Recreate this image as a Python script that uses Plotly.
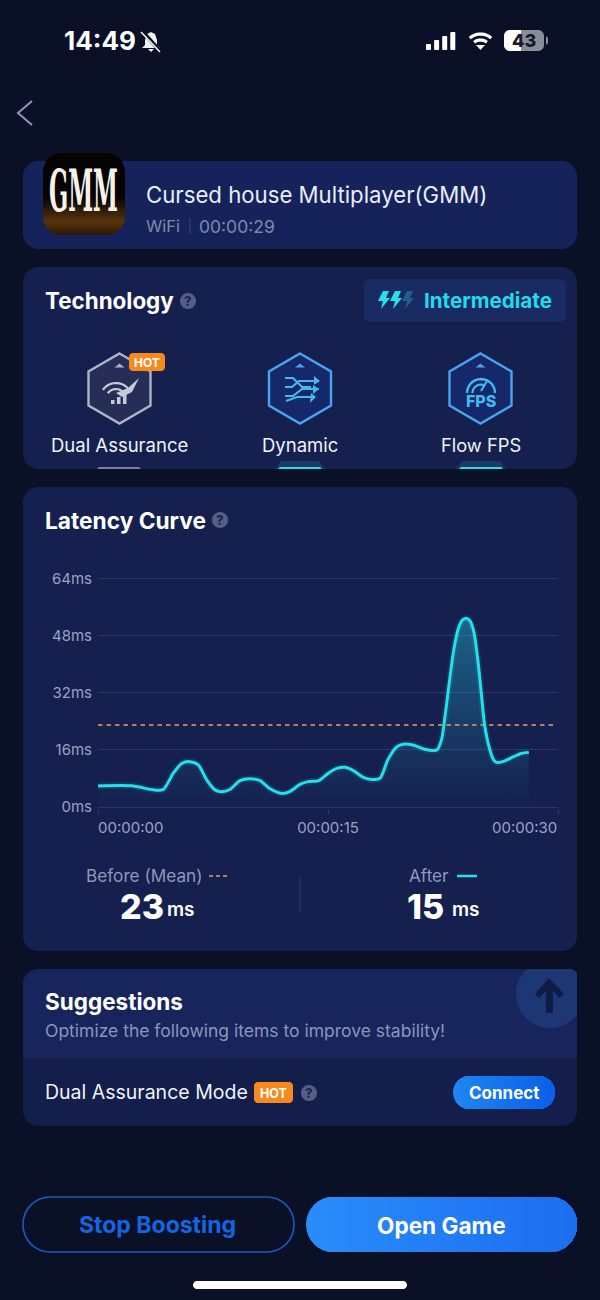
import math
import plotly.graph_objects as go

# ---------- chart data ----------
TIME_S = [0, 2.3, 3.6, 4.26, 4.9, 5.46, 6.0, 6.54, 7.09, 7.63, 8.07, 8.6, 9.26, 9.9, 10.57, 11.2, 12.0,
          12.5, 13.2, 13.7, 14.4, 15.0, 15.57, 16.1, 16.65, 17.3, 17.85, 18.4, 18.9, 19.5, 19.9, 20.6,
          21.3, 22.1, 22.4, 22.6, 22.9, 23.2, 23.5, 23.75, 24.0, 24.25, 24.5, 24.75, 25.0, 25.2, 25.5, 25.8, 26.0,
          26.4, 27.1, 27.6, 28.1]
LATENCY_MS = [5.9, 5.9, 4.8, 4.9, 9.4, 12.2, 12.7, 11.8, 7.6, 4.8, 4.3, 4.9, 7.4, 7.9, 7.4, 5.2, 3.8,
              4.3, 6.4, 7.1, 7.4, 9.4, 10.8, 11.1, 10.2, 8.3, 7.7, 8.1, 13.2, 16.9, 17.6, 17.3,
              16.2, 16.0, 18.8, 24.3, 34.6, 44.0, 50.0, 52.3, 52.9, 52.2, 49.3, 42.0, 31.8, 23.4, 16.9, 13.2, 12.5,
              12.7, 14.1, 15.0, 15.3]
MEAN_X = [0, 29.8]
MEAN_Y = [23, 23]
Y_TICKS = [0, 16, 32, 48, 64]
Y_LABELS = ["0ms", "16ms", "32ms", "48ms", "64ms"]
X_TICKS = [0, 15, 30]
X_LABELS = ["00:00:00", "00:00:15", "00:00:30"]

# ---------- palette / helpers ----------
W, H = 600, 1300
FONT = "Inter, Roboto, sans-serif"
BG = "#0a1126"
CARD = "#15204e"
CYAN = "#27dfea"
GRID = "#2b3768"
shapes, notes = [], []


def X(p): return p / W
def Y(p): return 1 - p / H


def poly_path(pts, close=True):
    s = "M" + " L".join(f"{X(a):.5f} {Y(b):.5f}" for a, b in pts)
    return s + (" Z" if close else "")


def poly(pts, fill=None, line=None, lw=1, close=True, layer="below", opacity=1):
    shapes.append(dict(type="path", xref="paper", yref="paper", path=poly_path(pts, close),
                       fillcolor=fill if fill else "rgba(0,0,0,0)",
                       line=dict(color=line if line else "rgba(0,0,0,0)", width=lw if line else 0),
                       layer=layer, opacity=opacity))


def rr_pts(x0, y0, x1, y1, r):
    pts = []
    for cx, cy, a0 in ((x1 - r, y0 + r, -90), (x1 - r, y1 - r, 0), (x0 + r, y1 - r, 90), (x0 + r, y0 + r, 180)):
        for i in range(9):
            a = math.radians(a0 + i * 90 / 8)
            pts.append((cx + r * math.cos(a), cy + r * math.sin(a)))
    return pts


def rrect(x0, y0, x1, y1, r, fill=None, line=None, lw=1):
    poly(rr_pts(x0, y0, x1, y1, r), fill, line, lw)


def hmix(c0, c1, t):
    a = [int(c0[i:i + 2], 16) for i in (1, 3, 5)]
    b = [int(c1[i:i + 2], 16) for i in (1, 3, 5)]
    return "#" + "".join(f"{round(p + (q - p) * t):02x}" for p, q in zip(a, b))


def grad_rrect(x0, y0, x1, y1, r, c0, c1, n=40):
    base = rr_pts(x0, y0, x1, y1, r)
    for i in range(n):
        xs = x0 + (x1 - x0) * i / n
        poly([(max(a, xs), b) for a, b in base], hmix(c0, c1, i / (n - 1)))


def arc(cx, cy, r, a0, a1, n=14):
    return [(cx + r * math.cos(math.radians(a0 + (a1 - a0) * i / n)),
             cy + r * math.sin(math.radians(a0 + (a1 - a0) * i / n))) for i in range(n + 1)]


def txt(x, y, s, size, color="#ffffff", anchor="left", weight=400, family=FONT):
    if anchor == "left":
        x -= 1
    notes.append(dict(x=X(x), y=Y(y), xref="paper", yref="paper", text=s, showarrow=False, xanchor=anchor,
                      yanchor="middle", borderpad=0, font=dict(size=size, color=color, family=family, weight=weight)))


def help_icon(cx, cy):
    poly(arc(cx, cy, 8, 0, 360, 28), "#565e86")
    txt(cx, cy, "?", 13, "#1a2450", "center", 800)


def hexagon(cx, cy, stroke, fill):
    w, h, s = 31, 35, 17
    pts = [(cx, cy - h), (cx + w, cy - s), (cx + w, cy + s), (cx, cy + h), (cx - w, cy + s), (cx - w, cy - s)]
    poly(pts, fill, stroke, 2.4)
    poly([(cx, cy - 25), (cx + 5, cy - 21), (cx - 5, cy - 21)], stroke)


def bolt(x, y, c):
    poly([(x + 5, y), (x + 11, y), (x + 8, y + 7), (x + 12, y + 7), (x + 3, y + 18), (x + 5, y + 10), (x, y + 10)], c)


# ---------- status bar ----------
txt(64, 40, "14:49", 26, "#ffffff", weight=700)
poly([(151, 32), (155, 34), (157, 40), (157, 45), (160, 48), (142, 48), (145, 45), (145, 40), (147, 34)], "#f1f2f5")
poly([(148, 49), (154, 49), (151, 52)], "#f1f2f5")
poly([(142, 31), (161, 52)], None, BG, 4, close=False)
poly([(141, 32), (160, 52)], None, "#f1f2f5", 1.6, close=False)
for i, h_ in enumerate((6, 10, 14, 18)):
    rrect(426 + i * 8.1, 50 - h_, 431 + i * 8.1, 50, 1, "#ffffff")
poly([(480.5, 50), (476, 45), (485, 45)], "#ffffff")
poly(arc(480.5, 50, 10, -130, -50), None, "#ffffff", 3.2, close=False)
poly(arc(480.5, 50, 16, -132, -48), None, "#ffffff", 3.2, close=False)
rrect(504, 30, 544, 51, 6, "#8a8d98")
poly([(546, 36), (548, 38), (548, 43), (546, 45)], "#8a8d98")
poly([(a if a < 521 else 521, b) for a, b in rr_pts(504, 30, 544, 51, 6)], "#ffffff")
txt(524, 40.5, "43", 18, "#141a30", "center", 800)
poly([(32, 101), (18, 113), (32, 125)], None, "#8d98b3", 2, close=False)

# ---------- game card ----------
rrect(23, 161, 577, 249, 15, "#16235a")
base = rr_pts(43, 153, 125, 235, 19)
poly(base, "#060403")
for i in range(16):
    y_ = 198 + i * 37 / 16
    t = i / 15
    c = hmix("#0a0705", "#55320c", min(1, t * 1.6)) if t < 0.7 else hmix("#55320c", "#2e1a06", (t - 0.7) / 0.3)
    poly([(a, max(b, y_)) for a, b in base], c)
txt(83.5, 191.5, "GMM", 25, "#f6f2ea", "center", 700, "DejaVu Serif Condensed, DejaVu Serif, serif")
txt(146, 194, "Cursed house Multiplayer(GMM)", 22.2, "#e9edf9")
txt(146, 226, "WiFi", 16.5, "#7f88ad")
poly([(190, 218), (190, 234)], None, "#3a4675", 1, close=False)
txt(199, 226, "00:00:29", 17.5, "#7f88ad")

# ---------- technology card ----------
rrect(23, 267, 577, 469, 15, CARD)
txt(45, 300, "Technology", 22.4, "#ffffff", weight=700)
help_icon(188, 301)
rrect(364, 279, 566, 322, 6, "#1a2a63")
bolt(378, 291, CYAN)
bolt(390, 291, CYAN)
bolt(402, 291, "#1f5f86")
txt(424, 300, "Intermediate", 20.6, "#22dbe8", weight=700)
hexagon(119.5, 388.5, "#aeb3c4", "#262e57")
hexagon(300, 388.5, "#4aa3f0", "#14286a")
hexagon(480.5, 388.5, "#4aa3f0", "#14286a")
# hexagon glyphs
poly(arc(116, 399, 10, -145, -40), None, "#c6c9d6", 2.2, close=False)
poly(arc(116, 399, 16, -145, -40), None, "#c6c9d6", 2.2, close=False)
poly([(116, 393), (128, 388), (139, 378), (132, 392), (122, 397)], "#c6c9d6")
for x_, top in ((111, 400), (117, 397), (123, 394)):
    poly([(x_, top), (x_ + 3.5, top), (x_ + 3.5, 404), (x_, 404)], "#c6c9d6")
DYN = "#45b8f0"
poly([(285, 378), (293, 378), (302, 387), (311, 387)], None, DYN, 2.2, close=False)
poly([(285, 396), (293, 396), (302, 389), (319, 389)], None, DYN, 2.2, close=False)
poly([(285, 387), (292, 387), (299, 381), (316, 381)], None, DYN, 2.2, close=False)
poly([(286, 401), (297, 397), (314, 397)], None, DYN, 2.2, close=False)
poly([(314, 376), (320, 381), (314, 385)], DYN)
poly([(313, 385), (319, 389), (313, 394)], DYN)
poly([(311, 393), (316, 397), (310, 403)], DYN)
poly(arc(481, 393, 14, -180, 0), None, DYN, 2.4, close=False)
poly(arc(481, 393, 8.5, -180, -60), None, DYN, 2.2, close=False)
poly([(481, 391), (487, 381)], None, DYN, 2.2, close=False)
txt(481, 401, "FPS", 16, DYN, "center", 800)
rrect(129, 353, 165, 371, 4, "#f78a1e")
txt(147, 362, "HOT", 12, "#ffffff", "center", 700)
txt(119.5, 445, "Dual Assurance", 18.5, "#f0f2fa", "center")
txt(300, 445, "Dynamic", 18.5, "#f0f2fa", "center")
txt(480.5, 445, "Flow FPS", 18.3, "#f0f2fa", "center")
poly([(97, 469), (99, 467), (139, 467), (141, 469)], "#7a7f9a")
for x_ in (278, 459):
    poly([(x_ - 3, 469), (x_ + 3, 461), (x_ + 41, 461), (x_ + 47, 469)], "rgba(39,223,234,0.14)")
    poly([(x_, 469), (x_ + 2, 467), (x_ + 42, 467), (x_ + 44, 469)], CYAN)

# ---------- chart card ----------
rrect(23, 487, 577, 951, 15, CARD)
txt(45, 520, "Latency Curve", 22.7, "#ffffff", weight=700)
help_icon(220, 520)

txt(86, 875, "Before (Mean)", 17.2, "#8f97bb")
poly([(209, 876), (230, 876)], None, "#e8a05c", 1.5, close=False)
shapes[-1]["line"]["dash"] = "4px,3px"
txt(120, 906, "23", 34, "#ffffff", weight=800)
txt(167, 910, "ms", 19, "#ffffff", weight=600)
poly([(300, 877), (300, 913)], None, "#333f70", 1, close=False)
txt(409, 875, "After", 17.2, "#8f97bb")
poly([(457, 876), (477, 876)], None, CYAN, 2.5, close=False)
txt(407, 906, "15", 34, "#ffffff", weight=800)
txt(452, 910, "ms", 19, "#ffffff", weight=600)

# ---------- suggestions card ----------
rrect(23, 969, 577, 1126, 15, "#131e4b")
poly([(a, min(b, 1058)) for a, b in rr_pts(23, 969, 577, 1126, 15)], "#18255c")
circ = [(min(a, 577), max(b, 969)) for a, b in arc(550, 994, 34, 0, 360, 48)]
poly(circ, "#1d3674")
poly([(549, 978), (564, 994), (560, 998), (553, 991), (553, 1013), (546, 1013), (546, 991), (539, 998), (535, 994)], "#101b46")
txt(45, 1001, "Suggestions", 22.5, "#ffffff", weight=700)
txt(45, 1030, "Optimize the following items to improve stability!", 17.5, "#8b94bb")
txt(45, 1092, "Dual Assurance Mode", 19.5, "#f0f2fa")
rrect(254, 1082, 293, 1103, 4, "#f78a1e")
txt(273.5, 1093, "HOT", 12.5, "#ffffff", "center", 700)
help_icon(309, 1093)
grad_rrect(453, 1076, 555, 1109, 16.5, "#1f86f2", "#0b5fe8")
txt(504, 1093, "Connect", 17, "#ffffff", "center", 700)

# ---------- bottom buttons ----------
rrect(23, 1197, 294, 1252, 27, None, "#1d57c0", 1.6)
txt(158, 1225, "Stop Boosting", 23, "#1565e0", "center", 700)
grad_rrect(306, 1197, 577, 1252, 27, "#2a8cfa", "#1c6ef0")
txt(441, 1225, "Open Game", 22.6, "#ffffff", "center", 700)
rrect(193, 1281, 407, 1289, 4, "#ffffff")

# ---------- x axis edge labels, from the tick arrays ----------
TICK_FONT = dict(size=15, color="#9aa2c6", family=FONT)
notes.append(dict(x=X_TICKS[0], y=Y(827), xref="x", yref="paper", text=X_LABELS[0], showarrow=False, xanchor="left",
                  xshift=-1, yanchor="middle", borderpad=0, font=TICK_FONT))
notes.append(dict(x=X_TICKS[2], y=Y(827), xref="x", yref="paper", text=X_LABELS[2], showarrow=False, xanchor="right",
                  yanchor="middle", borderpad=0, font=TICK_FONT))

fig = go.Figure()
fig.add_trace(go.Scatter(x=TIME_S, y=LATENCY_MS, mode="lines", line=dict(shape="spline", smoothing=0.7, color="rgba(39,223,234,0)", width=0),
                         fill="tozeroy",
                         fillgradient=dict(type="vertical", start=0, stop=53,
                                           colorscale=[[0, "rgba(39,190,220,0)"], [0.35, "rgba(39,190,220,0.14)"], [1, "rgba(39,190,220,0.42)"]])))
fig.add_trace(go.Scatter(x=MEAN_X, y=MEAN_Y, mode="lines", line=dict(color="#e8a05c", width=1.5, dash="4.5px,4px")))
fig.add_trace(go.Scatter(x=TIME_S, y=LATENCY_MS, mode="lines", line=dict(shape="spline", smoothing=0.7, color="rgba(39,223,234,0.10)", width=7)))
fig.add_trace(go.Scatter(x=TIME_S, y=LATENCY_MS, mode="lines", line=dict(shape="spline", smoothing=0.7, color=CYAN, width=3)))

PAD_MS = 0.5
PX_PER_MS = (807 - 578.5) / 64
fig.update_layout(
    width=W, height=H, margin=dict(l=0, r=0, t=0, b=0, autoexpand=False), autosize=False, showlegend=False, hovermode=False,
    paper_bgcolor=BG, plot_bgcolor="rgba(0,0,0,0)", shapes=shapes, annotations=notes,
    font=dict(family=FONT),
    xaxis=dict(domain=[X(98), X(558)], range=[0, 30], tickmode="array", tickvals=X_TICKS,
               ticktext=["", X_LABELS[1], ""], ticks="outside", ticklen=5, tickcolor=GRID, tickwidth=1,
               showgrid=False, zeroline=False, showline=False, fixedrange=True,
               tickfont=dict(size=15, color="#9aa2c6")),
    yaxis=dict(domain=[Y(807 + PAD_MS * PX_PER_MS), Y(578.5 - PAD_MS * PX_PER_MS)], range=[-PAD_MS, 64 + PAD_MS],
               tickmode="array", tickvals=Y_TICKS, ticktext=Y_LABELS,
               showgrid=True, gridcolor=GRID, gridwidth=1, zeroline=False, showline=False, ticks="outside",
               ticklen=2, tickcolor="rgba(0,0,0,0)", fixedrange=True, tickfont=dict(size=15, color="#9aa2c6")),
)

STRETCH = """
document.body.style.margin='0';document.body.style.background='%s';
document.querySelectorAll('.annotation-text').forEach(function(t){
  if(t.textContent==='GMM'){
    var b=t.getBBox(),cx=b.x+b.width/2,cy=b.y+b.height/2;
    t.setAttribute('transform','translate('+cx+' '+cy+') scale(1 2.3) translate('+(-cx)+' '+(-cy)+')');
  }
});
""" % BG

fig.write_html("out.html", config=dict(displayModeBar=False), post_script=STRETCH)
